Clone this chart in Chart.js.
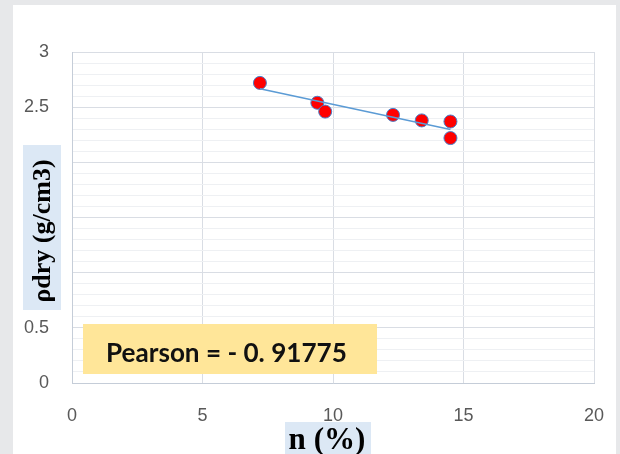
<!DOCTYPE html>
<html>
<head>
<meta charset="utf-8">
<script src="https://cdn.jsdelivr.net/npm/chart.js@4.4.0/dist/chart.umd.min.js"></script>
<style>
  html, body { margin: 0; padding: 0; background: #e7e8ea; }
  #wrap { width: 620px; height: 454px; }
</style>
</head>
<body>
<div id="wrap"><canvas id="pearsonChart" width="620" height="454"></canvas></div>
<script>
// n (%) against dry density
const porosity = [7.2, 9.4, 9.7, 12.3, 13.4, 14.5, 14.5];
const dryDensity = [2.72, 2.54, 2.46, 2.43, 2.38, 2.37, 2.22];
const xTicks = [0, 5, 10, 15, 20];
const yTicks = [0, 0.5, 1, 1.5, 2, 2.5, 3];

const pearsonText = 'Pearson = - 0. 91775';
const xTitle = 'n (%)';
const yTitle = 'ρdry (g/cm3)';

// linear trendline (least squares) through the points
function trend() {
    const n = porosity.length;
    const mx = porosity.reduce((a, b) => a + b, 0) / n;
    const my = dryDensity.reduce((a, b) => a + b, 0) / n;
    let sxy = 0, sxx = 0;
    for (let i = 0; i < n; i++) {
        sxy += (porosity[i] - mx) * (dryDensity[i] - my);
        sxx += (porosity[i] - mx) * (porosity[i] - mx);
    }
    const slope = sxy / sxx;
    const x0 = Math.min(...porosity), x1 = Math.max(...porosity);
    return [{x: x0, y: my + slope * (x0 - mx)}, {x: x1, y: my + slope * (x1 - mx)}];
}

const points = porosity.map((x, i) => ({x: x, y: dryDensity[i]}));

function fitFont(ctx, text, family, weight, width) {
    ctx.font = weight + ' 20px ' + family;
    const size = 20 * width / ctx.measureText(text).width;
    return weight + ' ' + size.toFixed(1) + 'px ' + family;
}

const overlay = {
    id: 'overlay',
    beforeDraw(chart) {
        const c = chart.ctx;
        c.save();
        c.fillStyle = '#e7e8ea';
        c.fillRect(0, 0, chart.width, chart.height);
        c.fillStyle = '#ffffff';
        c.fillRect(13, 5, 603, 449);
        c.restore();
    },
    afterDraw(chart) {
        const c = chart.ctx;
        c.save();
        // Pearson box
        c.fillStyle = '#ffe699';
        c.fillRect(83, 324, 294, 50);
        c.fillStyle = '#111111';
        c.font = fitFont(c, pearsonText, 'Lato, "Liberation Sans", sans-serif', 'bold', 241);
        c.textBaseline = 'middle';
        c.textAlign = 'left';
        c.fillText(pearsonText, 106, 354);

        // x title
        c.fillStyle = '#dce8f5';
        c.fillRect(285, 422, 86, 32);
        c.fillStyle = '#000000';
        c.font = fitFont(c, xTitle, '"Liberation Serif", "DejaVu Serif", serif', 'bold', 77);
        c.textAlign = 'center';
        c.fillText(xTitle, 327, 441);

        // y title
        c.fillStyle = '#dce8f5';
        c.fillRect(23, 145, 38, 165);
        c.translate(43, 231);
        c.rotate(-Math.PI / 2);
        c.fillStyle = '#000000';
        c.font = fitFont(c, yTitle, '"Liberation Serif", "DejaVu Serif", serif', 'bold', 143);
        c.fillText(yTitle, 0, 0);
        c.restore();
    }
};

const ctx = document.getElementById('pearsonChart').getContext('2d');

const pearsonChart = new Chart(ctx, {
    type: 'scatter',
    data: {
        datasets: [{
            type: 'line',
            label: 'Trend',
            data: trend(),
            borderColor: '#5b9bd5',
            borderWidth: 1.5,
            pointRadius: 0,
            fill: false,
            order: 0,
        }, {
            label: 'ρdry',
            data: points,
            backgroundColor: '#ff0000',
            borderColor: '#4a7fc9',
            borderWidth: 1,
            pointRadius: 6.5,
            order: 1,
        }]
    },
    options: {
        responsive: false,
        animation: false,
        layout: {
            padding: {left: 0, top: 52, right: 26, bottom: 0}
        },
        plugins: {
            legend: {display: false},
            tooltip: {enabled: false}
        },
        scales: {
            x: {
                type: 'linear',
                min: xTicks[0],
                max: xTicks[xTicks.length - 1],
                afterBuildTicks: (scale) => { scale.ticks = xTicks.map(v => ({value: v})); },
                afterFit: (scale) => {
                    scale.height = 71;
                    scale.paddingLeft = 0;
                    scale.paddingRight = 0;
                },
                ticks: {
                    color: '#595959',
                    padding: 22,
                    maxRotation: 0,
                    font: {size: 18, family: '"Liberation Sans", Arial, sans-serif'}
                },
                grid: {color: '#d9dde4', drawTicks: false},
                border: {color: '#c5cdd8'}
            },
            y: {
                type: 'linear',
                min: yTicks[0],
                max: yTicks[yTicks.length - 1],
                afterBuildTicks: (scale) => {
                    const t = [];
                    for (let i = 0; i <= 30; i++) t.push({value: i / 10});
                    scale.ticks = t;
                },
                afterFit: (scale) => {
                    scale.width = 72;
                    scale.paddingTop = 0;
                    scale.paddingBottom = 0;
                },
                ticks: {
                    color: '#595959',
                    padding: 23,
                    autoSkip: false,
                    font: {size: 18, family: '"Liberation Sans", Arial, sans-serif'},
                    callback: (v) => {
                        const k = Math.round(v * 10);
                        return yTicks.some(t => Math.round(t * 10) === k) ? String(k / 10) : '';
                    }
                },
                grid: {
                    drawTicks: false,
                    color: (c) => Math.round(c.tick.value * 10) % 5 === 0 ? '#d9dde4' : '#eef0f3'
                },
                border: {color: '#c5cdd8'}
            }
        }
    },
    plugins: [overlay]
});
</script>
</body>
</html>
